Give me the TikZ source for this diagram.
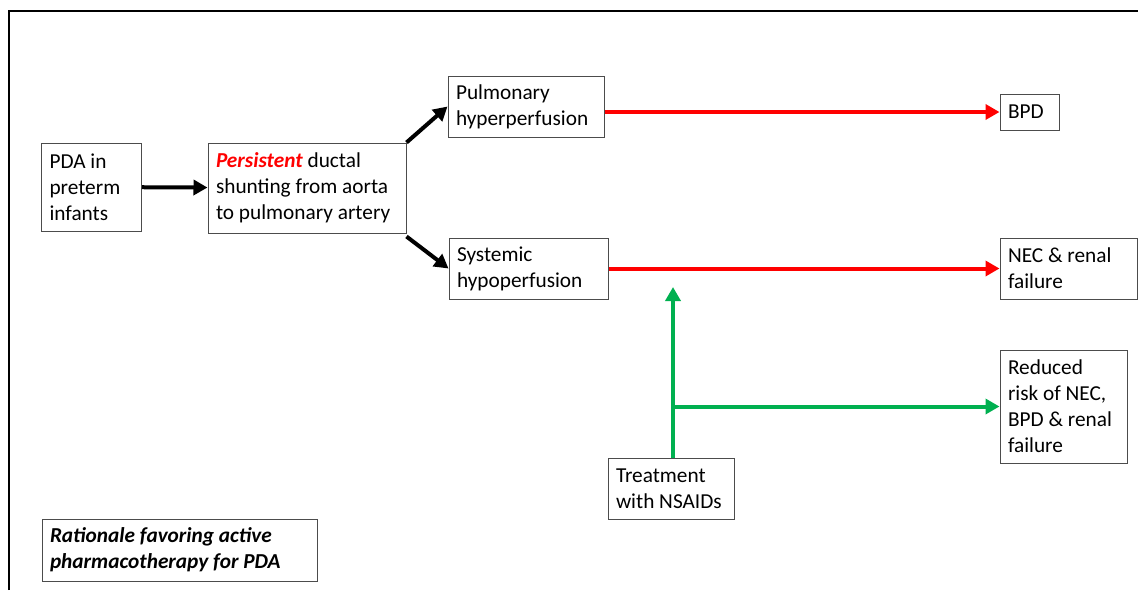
\documentclass[tikz,border=0pt]{standalone}
\usepackage{fontspec}
\setmainfont{Carlito}
\usetikzlibrary{arrows.meta}
\definecolor{flowred}{RGB}{255,0,0}
\definecolor{flowgreen}{RGB}{0,176,80}

\begin{document}
\begin{tikzpicture}[x=1pt,y=-1pt,
  box/.style={draw=black!70, line width=1pt, inner xsep=8pt, inner ysep=2pt,
    align=flush left, font=\fontsize{21.3}{26}\selectfont},
  blackarrow/.style={black, line width=4pt, -{Triangle[length=14pt,width=15pt]}},
  redarrow/.style={flowred, line width=4pt, -{Triangle[length=14pt,width=15pt]}},
  greenarrow/.style={flowgreen, line width=4pt, -{Triangle[length=14pt,width=15pt]}}]

\useasboundingbox (0,0) rectangle (1138,590);

% frame
\draw[black, line width=2pt] (9,590)--(9,11)--(1138,11);

% boxes
\node[box, text width=84pt, minimum height=88pt] (pda) at (91.5,187) {PDA in\\preterm\\infants};
\node[box, text width=182pt, minimum height=90pt] (shunt) at (307,188)
  {{\color{flowred}\bfseries\itshape Persistent} ductal\\shunting from aorta\\to pulmonary artery};
\node[box, text width=140pt, minimum height=61pt] (pulm) at (526,106.5) {Pulmonary\\hyperperfusion};
\node[box, text width=143pt, minimum height=61pt] (syst) at (528.5,268.5) {Systemic\\hypoperfusion};
\node[box, text width=43pt, minimum height=36pt] (bpd) at (1029.5,112) {BPD};
\node[box, text width=121pt, minimum height=61pt] (nec) at (1068.5,268.5) {NEC \& renal\\failure};
\node[box, text width=111pt, minimum height=113pt] (reduced) at (1063.5,406.5)
  {Reduced\\risk of NEC,\\BPD \& renal\\failure};
\node[box, text width=110pt, minimum height=61pt] (nsaid) at (671,488.5) {Treatment\\with NSAIDs};
\node[box, text width=259pt, minimum height=62pt] (why) at (179.5,550)
  {\bfseries\itshape Rationale favoring active\\pharmacotherapy for PDA};

% black arrows
\draw[blackarrow] (pda) -- (shunt);
\draw[blackarrow] (shunt.north east) -- (pulm.west);
\draw[blackarrow] ([yshift=-3pt]shunt.south east) -- (syst.west);

% red arrows
\draw[redarrow] (pulm.east |- bpd.west) -- (bpd.west);
\draw[redarrow] (syst.east) -- (nec.west);

% green arrows
\coordinate (gtip) at (673,287);
\draw[greenarrow] (nsaid.north -| gtip) -- (gtip);
\draw[greenarrow] (gtip |- reduced.west) -- (reduced.west);

\end{tikzpicture}
\end{document}
